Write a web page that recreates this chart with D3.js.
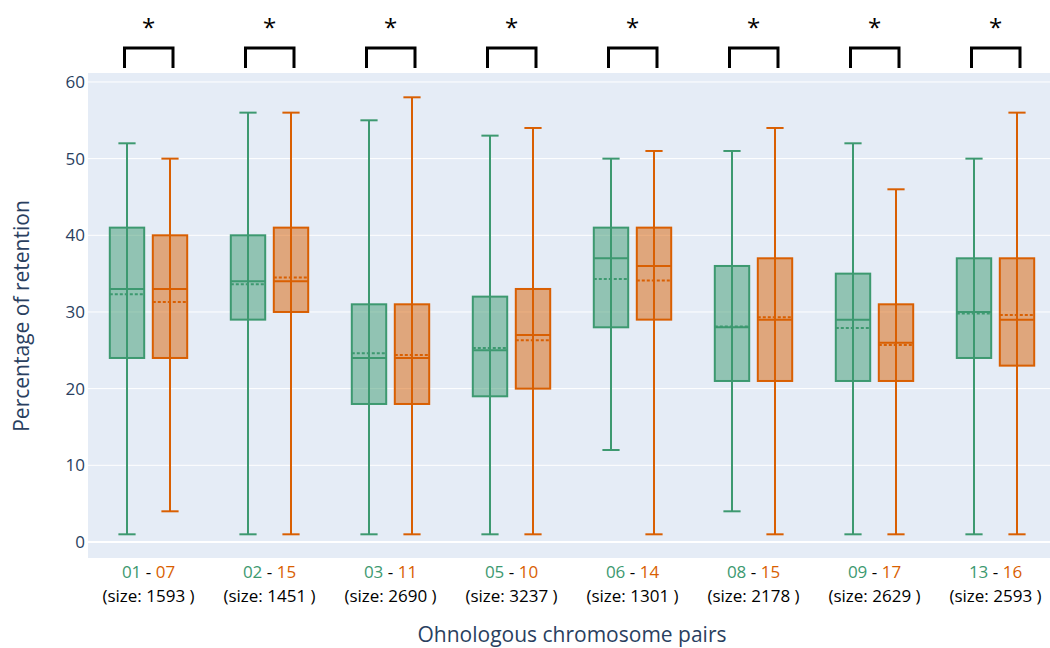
<!DOCTYPE html>
<html lang="en">
<head>
<meta charset="utf-8">
<script src="https://d3js.org/d3.v7.min.js"></script>
<style>
body { margin: 0; background: #fff; }
text { font-family: "Open Sans", sans-serif; }
</style>
</head>
<body>
<svg width="1050" height="648"></svg>
<script>
// chromosome pairs
var pairA = ["01", "02", "03", "05", "06", "08", "09", "13"];
var pairB = ["07", "15", "11", "10", "14", "15", "17", "16"];
var sizes = [1593, 1451, 2690, 3237, 1301, 2178, 2629, 2593];

// box stats per pair: [lower whisker, q1, median, q3, upper whisker], and mean
var statsA = [
  [1, 24, 33, 41, 52], [1, 29, 34, 40, 56], [1, 18, 24, 31, 55], [1, 19, 25, 32, 53],
  [12, 28, 37, 41, 50], [4, 21, 28, 36, 51], [1, 21, 29, 35, 52], [1, 24, 30, 37, 50]
];
var meanA = [32.3, 33.6, 24.6, 25.3, 34.3, 28.1, 27.9, 29.8];
var statsB = [
  [4, 24, 33, 40, 50], [1, 30, 34, 41, 56], [1, 18, 24, 31, 58], [1, 20, 27, 33, 54],
  [1, 29, 36, 41, 51], [1, 21, 29, 37, 54], [1, 21, 26, 31, 46], [1, 23, 29, 37, 56]
];
var meanB = [31.3, 34.5, 24.4, 26.3, 34.1, 29.3, 25.7, 29.6];
var signif = ["*", "*", "*", "*", "*", "*", "*", "*"];
var yTicks = [0, 10, 20, 30, 40, 50, 60];

var green = "#3d9970", orange = "#d95f02", axisCol = "#2a3f5f";

var svg = d3.select("svg");
var pLeft = 88, pRight = 1056, pTop = 73, pBottom = 558;

var x = d3.scaleBand().domain(d3.range(pairA.length)).range([pLeft, pRight]).padding(0);
var sub = d3.scaleBand().domain(["a", "b"]).range([-43, 43]).paddingInner(0.2).paddingOuter(0.1);
var y = d3.scaleLinear().domain([-2.09, 61.17]).range([pBottom, pTop]);

svg.append("rect")
  .attr("x", pLeft).attr("y", pTop)
  .attr("width", pRight - pLeft).attr("height", pBottom - pTop)
  .attr("fill", "#e5ecf6");

// grid
svg.append("g").selectAll("line").data(yTicks).enter().append("line")
  .attr("x1", pLeft).attr("x2", pRight)
  .attr("y1", function(d) { return y(d); }).attr("y2", function(d) { return y(d); })
  .attr("stroke", "#fff")
  .attr("stroke-width", function(d) { return d === 0 ? 2 : 1; });

// y axis labels
svg.append("g").selectAll("text").data(yTicks).enter().append("text")
  .attr("x", 85).attr("y", function(d) { return y(d); })
  .attr("dy", "0.35em")
  .attr("text-anchor", "end")
  .attr("font-size", "17px")
  .attr("fill", axisCol)
  .text(function(d) { return d; });

svg.append("text")
  .attr("transform", "translate(29," + 316 + ") rotate(-90)")
  .attr("text-anchor", "middle")
  .attr("font-size", "21px")
  .attr("fill", axisCol)
  .text("Percentage of retention");

svg.append("text")
  .attr("x", 572).attr("y", 642)
  .attr("text-anchor", "middle")
  .attr("font-size", "21px")
  .attr("fill", axisCol)
  .text("Ohnologous chromosome pairs");

var boxes = [];
pairA.forEach(function(p, i) {
  boxes.push({ i: i, s: "a", st: statsA[i], mean: meanA[i], col: green });
  boxes.push({ i: i, s: "b", st: statsB[i], mean: meanB[i], col: orange });
});

var g = svg.append("g").selectAll("g").data(boxes).enter().append("g")
  .attr("transform", function(d) {
    return "translate(" + (x(d.i) + x.bandwidth() / 2 + sub(d.s)) + ",0)";
  });
var bw = sub.bandwidth();

// whiskers
g.append("line")
  .attr("x1", bw / 2).attr("x2", bw / 2)
  .attr("y1", function(d) { return y(d.st[4]); })
  .attr("y2", function(d) { return y(d.st[0]); })
  .attr("stroke", function(d) { return d.col; })
  .attr("stroke-width", 2);
[0, 4].forEach(function(k) {
  g.append("line")
    .attr("x1", bw / 4).attr("x2", bw * 3 / 4)
    .attr("y1", function(d) { return y(d.st[k]); })
    .attr("y2", function(d) { return y(d.st[k]); })
    .attr("stroke", function(d) { return d.col; })
    .attr("stroke-width", 2);
});

// box
g.append("rect")
  .attr("x", 0).attr("width", bw)
  .attr("y", function(d) { return y(d.st[3]); })
  .attr("height", function(d) { return y(d.st[1]) - y(d.st[3]); })
  .attr("fill", function(d) { return d.col; })
  .attr("fill-opacity", 0.5)
  .attr("stroke", function(d) { return d.col; })
  .attr("stroke-width", 2);

// median
g.append("line")
  .attr("x1", 0).attr("x2", bw)
  .attr("y1", function(d) { return y(d.st[2]); })
  .attr("y2", function(d) { return y(d.st[2]); })
  .attr("stroke", function(d) { return d.col; })
  .attr("stroke-width", 2);

// mean
g.append("line")
  .attr("x1", 0).attr("x2", bw)
  .attr("y1", function(d) { return y(d.mean); })
  .attr("y2", function(d) { return y(d.mean); })
  .attr("stroke", function(d) { return d.col; })
  .attr("stroke-width", 2)
  .attr("stroke-dasharray", "3,2");

// x tick labels
var ticks = svg.append("g").selectAll("g").data(pairA).enter().append("g")
  .attr("transform", function(d, i) { return "translate(" + (x(i) + x.bandwidth() / 2) + ",0)"; });
var t1 = ticks.append("text")
  .attr("y", 578)
  .attr("text-anchor", "middle")
  .attr("font-size", "17px");
t1.append("tspan").attr("fill", green).text(function(d) { return d; });
t1.append("tspan").attr("fill", "#000").text(" - ");
t1.append("tspan").attr("fill", orange).text(function(d, i) { return pairB[i]; });
ticks.append("text")
  .attr("y", 602)
  .attr("text-anchor", "middle")
  .attr("font-size", "17px")
  .attr("fill", "#000")
  .text(function(d, i) { return "(size: " + sizes[i] + " )"; });

// significance brackets
var br = svg.append("g").selectAll("g").data(signif).enter().append("g")
  .attr("transform", function(d, i) { return "translate(" + (x(i) + x.bandwidth() / 2) + ",0)"; });
br.append("path")
  .attr("d", "M-24,68V48H24.5V68")
  .attr("fill", "none")
  .attr("stroke", "#000")
  .attr("stroke-width", 3);
br.append("text")
  .attr("y", 36)
  .attr("text-anchor", "middle")
  .attr("font-size", "24px")
  .attr("fill", "#000")
  .text(function(d) { return d; });
</script>
</body>
</html>
